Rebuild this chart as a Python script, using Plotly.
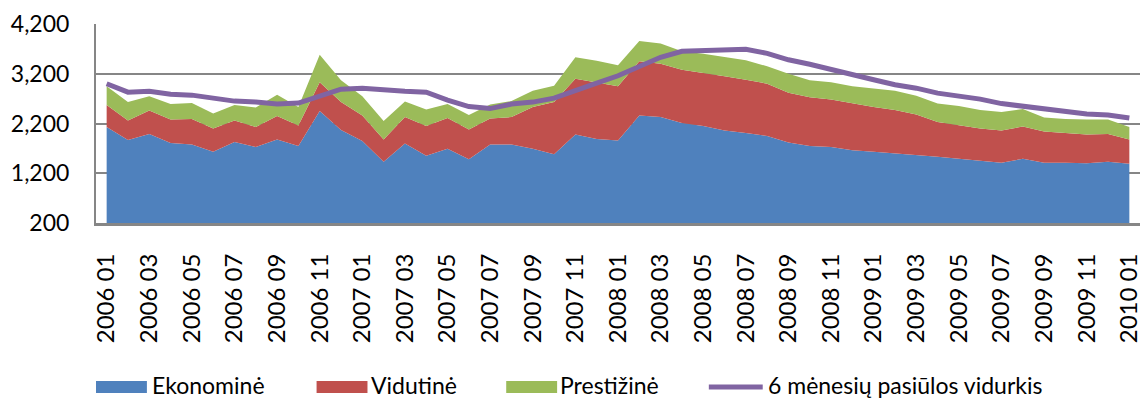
import plotly.graph_objects as go

# month labels on the category axis
months = [
    "2006 01", "2006 02", "2006 03", "2006 04", "2006 05", "2006 06", "2006 07", "2006 08",
    "2006 09", "2006 10", "2006 11", "2006 12",
    "2007 01", "2007 02", "2007 03", "2007 04", "2007 05", "2007 06", "2007 07", "2007 08",
    "2007 09", "2007 10", "2007 11", "2007 12",
    "2008 01", "2008 02", "2008 03", "2008 04", "2008 05", "2008 06", "2008 07", "2008 08",
    "2008 09", "2008 10", "2008 11", "2008 12",
    "2009 01", "2009 02", "2009 03", "2009 04", "2009 05", "2009 06", "2009 07", "2009 08",
    "2009 09", "2009 10", "2009 11", "2009 12",
    "2010 01",
]

ekonomine = [2130, 1870, 1990, 1810, 1780, 1630, 1830, 1730, 1880, 1750,
             2450, 2070, 1850, 1430, 1800, 1550, 1690, 1480, 1780, 1780,
             1690, 1580, 1980, 1890, 1860, 2360, 2330, 2210, 2150, 2060,
             2010, 1950, 1820, 1750, 1730, 1660, 1630, 1600, 1560, 1530,
             1490, 1450, 1410, 1490, 1410, 1410, 1400, 1430, 1390]

vidutine = [440, 390, 470, 470, 510, 470, 430, 400, 470, 410,
            580, 560, 510, 450, 530, 600, 620, 600, 520, 550,
            840, 1050, 1120, 1130, 1090, 1090, 1070, 1070, 1070, 1090,
            1070, 1050, 1000, 980, 950, 940, 900, 870, 820, 700,
            670, 650, 650, 650, 630, 600, 580, 560, 490]

prestizine = [380, 370, 290, 310, 320, 300, 310, 390, 430, 370,
              550, 440, 390, 370, 310, 330, 280, 290, 280, 320,
              330, 330, 430, 440, 420, 410, 410, 370, 380, 390,
              390, 350, 380, 340, 350, 350, 370, 390, 380, 370,
              390, 370, 370, 350, 280, 280, 300, 290, 250]

vidurkis = [3000, 2830, 2850, 2790, 2770, 2710, 2650, 2630, 2590, 2610,
            2740, 2890, 2910, 2870, 2850, 2830, 2670, 2540, 2500, 2590,
            2630, 2710, 2850, 3010, 3160, 3350, 3530, 3650, 3670, 3680,
            3690, 3610, 3480, 3390, 3280, 3180, 3080, 2980, 2910, 2810,
            2750, 2690, 2600, 2550, 2480, 2430, 2390, 2370, 2310]

names = ["Ekonominė", "Vidutinė", "Prestižinė"]
colors = ["#4F81BD", "#C0504D", "#9BBB59"]
line_name = "6 mėnesių pasiūlos vidurkis"
line_color = "#8064A2"

FONT = "Lato"

fig = go.Figure()
for name, vals, col in zip(names, [ekonomine, vidutine, prestizine], colors):
    fig.add_trace(go.Scatter(
        x=months, y=vals, name=name, mode="lines",
        stackgroup="one", line=dict(width=0, color=col), fillcolor=col,
        showlegend=False,
    ))

fig.add_trace(go.Scatter(
    x=months, y=vidurkis, name=line_name, mode="lines",
    line=dict(color=line_color, width=5), showlegend=False,
))

# plot area in pixels, used to place the hand-drawn legend
L, R, T, B = 96, 1142, 24, 223


def px(x):
    return (x - L) / (R - L)


def py(y):
    return (B - y) / (B - T)


shapes = []
annotations = []
legend_items = [
    (names[0], colors[0], "box", 96, 147, 153),
    (names[1], colors[1], "box", 317, 368, 373),
    (names[2], colors[2], "box", 507, 558, 562),
    (line_name, line_color, "line", 710, 764, 770),
]
for text, col, kind, x0, x1, tx in legend_items:
    if kind == "box":
        shapes.append(dict(type="rect", xref="paper", yref="paper",
                           x0=px(x0), x1=px(x1), y0=py(393), y1=py(381),
                           fillcolor=col, line=dict(width=0)))
    else:
        shapes.append(dict(type="line", xref="paper", yref="paper",
                           x0=px(x0), x1=px(x1), y0=py(387), y1=py(387),
                           line=dict(color=col, width=5)))
    annotations.append(dict(text=text, xref="paper", yref="paper",
                            x=px(tx), y=py(385), xanchor="left", yanchor="middle",
                            showarrow=False, xshift=-2, borderpad=0,
                            font=dict(family=FONT, size=23, color="#000000")))

fig.update_layout(
    width=1142, height=400,
    margin=dict(l=L, r=1142 - R, t=T, b=400 - B),
    paper_bgcolor="white", plot_bgcolor="white",
    font=dict(family=FONT, color="#000000"),
    shapes=shapes, annotations=annotations,
    showlegend=False,
)

fig.update_xaxes(
    type="category", categoryorder="array", categoryarray=months,
    range=[-0.5, len(months) - 0.5],
    tickvals=months[::2], tickangle=-90,
    tickfont=dict(family=FONT, size=24),
    ticklabelstandoff=18,
    showgrid=False, showline=True, linecolor="#868686", linewidth=3,
    ticks="",
)

fig.update_yaxes(
    range=[200, 4200], tick0=200, dtick=1000, tickformat=",d",
    tickfont=dict(family=FONT, size=23),
    ticklabelstandoff=20,
    showgrid=True, gridcolor="#868686", gridwidth=2,
    showline=True, linecolor="#868686", linewidth=2,
    zeroline=False, ticks="",
)

# page has a default body margin; drop it so the figure sits at the window corner
fig.write_html("out.html", config={"displayModeBar": False},
               post_script="document.body.style.margin='0';")
